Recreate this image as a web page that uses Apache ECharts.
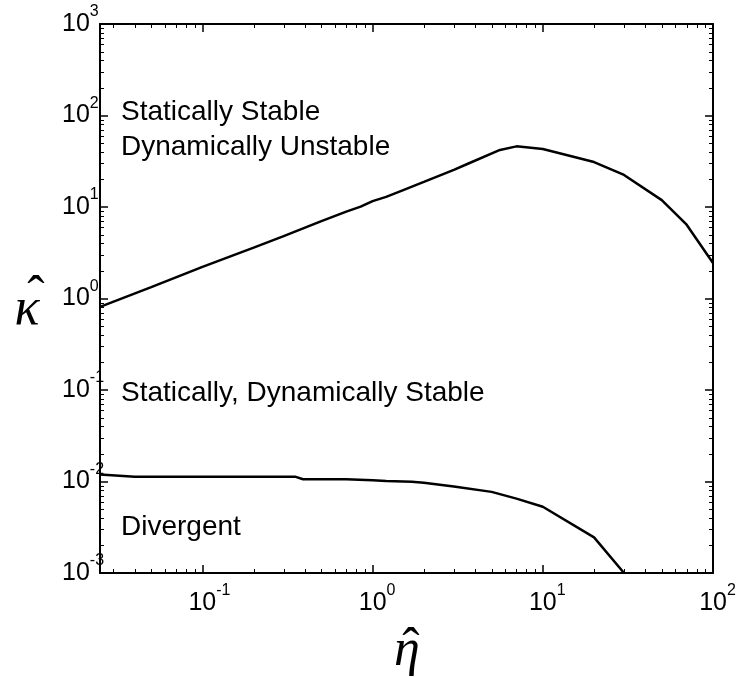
<!DOCTYPE html>
<html>
<head>
<meta charset="utf-8">
<script src="https://cdn.jsdelivr.net/npm/echarts@6/dist/echarts.min.js"></script>
<style>
  html, body { margin: 0; padding: 0; background: #fff; }
  #chart { width: 740px; height: 677px; }
</style>
</head>
<body>
<div id="chart"></div>
<script>
// Stability boundaries in the (eta-hat, kappa-hat) plane.
// Upper boundary: above it the system is statically stable but dynamically unstable.
const etaUpper   = [0.025, 0.05, 0.1, 0.2, 0.3, 0.5, 0.7, 0.85, 1.0, 1.2, 1.5, 2.0, 3.0, 3.6, 5.6, 7.0, 10, 20, 30, 50, 70, 100];
const kappaUpper = [0.81, 1.33, 2.22, 3.6, 4.8, 7.0, 8.9, 10.1, 11.6, 12.9, 15.2, 18.8, 25.5, 29.5, 42, 46, 43, 31, 22.4, 11.9, 6.4, 2.44];

// Lower boundary: below it the system diverges.
const etaLower   = [0.025, 0.04, 0.1, 0.2, 0.35, 0.39, 0.7, 1.0, 1.2, 1.7, 2.0, 3.0, 5.0, 7.0, 10, 20, 30];
const kappaLower = [0.0119, 0.0113, 0.0113, 0.0113, 0.0113, 0.0106, 0.0106, 0.0103, 0.0101, 0.00995, 0.0097, 0.0088, 0.0077, 0.0065, 0.0053, 0.00245, 0.001];

// Region annotations
const regionLabels = [
  { text: 'Statically Stable',              x: 121, y: 112 },
  { text: 'Dynamically Unstable',           x: 121, y: 147 },
  { text: 'Statically, Dynamically Stable', x: 121, y: 393 },
  { text: 'Divergent',                      x: 121, y: 527 }
];

// Axis titles (Greek letter with a hat above it)
const xTitle = '\u03B7';   // eta
const yTitle = '\u03BA';   // kappa
const HAT = '\u02C6';

// Axis ranges
const X_MIN = 0.025, X_MAX = 100;
const Y_MIN = 1e-3,  Y_MAX = 1e3;

// Minor (2..9 x 10^k) tick positions for the log axes
function minorTicks(lo, hi) {
  const out = [];
  for (let e = Math.floor(Math.log10(lo)); e < Math.ceil(Math.log10(hi)); e++) {
    for (let m = 2; m <= 9; m++) {
      const v = m * Math.pow(10, e);
      if (v > lo * 1.0001 && v < hi * 0.9999) out.push(+v.toPrecision(6));
    }
  }
  return out;
}
const xMinor = minorTicks(X_MIN, X_MAX);
const yMinor = minorTicks(Y_MIN, Y_MAX);

const FONT = 'Liberation Sans, Arial, sans-serif';
const SERIF = 'Liberation Serif, Times New Roman, serif';

function powerLabel(value, axis) {
  const e = Math.log10(value);
  const r = Math.round(e);
  if (Math.abs(e - r) > 1e-6) return '';
  const base = axis === 'y' ? 'by' : (r < 0 ? 'bn' : 'bp');
  return '{' + base + '|10}{s|' + r + '}';
}

const richTicks = {
  bp: { fontSize: 25, lineHeight: 40, fontFamily: FONT, color: '#000', padding: [0, 0, 0, 9] },
  bn: { fontSize: 25, lineHeight: 40, fontFamily: FONT, color: '#000', padding: [0, 0, 0, 14] },
  by: { fontSize: 25, lineHeight: 40, fontFamily: FONT, color: '#000' },
  s:  { fontSize: 16, lineHeight: 16, fontFamily: FONT, color: '#000', verticalAlign: 'top' }
};

const axisLineStyle = { show: true, lineStyle: { color: '#000', width: 2 } };
const majorTick = { show: true, inside: true, length: 8, lineStyle: { color: '#000', width: 1.5 } };

function logAxis(min, max, extra) {
  return Object.assign({
    type: 'log', logBase: 10, min: min, max: max,
    axisLine: axisLineStyle,
    axisTick: majorTick,
    minorTick: { show: false },
    splitLine: { show: false },
    minorSplitLine: { show: false }
  }, extra);
}

// Short inward ticks drawn on all four sides of the box at the minor positions
function minorTickSeries(values, dir) {
  return {
    type: 'custom',
    silent: true,
    z: 5,
    xAxisIndex: 0,
    yAxisIndex: 0,
    data: values.map(v => dir === 'x' ? [v, Y_MIN] : [X_MIN, v]),
    renderItem: function (params, api) {
      const cs = params.coordSys;
      const p = api.coord([api.value(0), api.value(1)]);
      const L = 4;
      const style = { stroke: '#000', lineWidth: 1 };
      if (dir === 'x') {
        const x = Math.round(p[0]) + 0.5;
        return { type: 'group', children: [
          { type: 'line', shape: { x1: x, y1: cs.y + cs.height, x2: x, y2: cs.y + cs.height - L }, style: style },
          { type: 'line', shape: { x1: x, y1: cs.y, x2: x, y2: cs.y + L }, style: style }
        ] };
      }
      const y = Math.round(p[1]) + 0.5;
      return { type: 'group', children: [
        { type: 'line', shape: { x1: cs.x, y1: y, x2: cs.x + L, y2: y }, style: style },
        { type: 'line', shape: { x1: cs.x + cs.width, y1: y, x2: cs.x + cs.width - L, y2: y }, style: style }
      ] };
    }
  };
}

const chart = echarts.init(document.getElementById('chart'), null, { renderer: 'canvas' });

function centeredText(text, x, y, font) {
  return {
    type: 'text', x: x, y: y,
    style: { text: text, font: font, fill: '#000', align: 'center', verticalAlign: 'middle' }
  };
}

const graphics = regionLabels.map(l => ({
  type: 'text',
  x: l.x, y: l.y,
  style: { text: l.text, font: '28px ' + FONT, fill: '#000', verticalAlign: 'middle' }
}));
// eta-hat below the horizontal axis
graphics.push(centeredText(xTitle, 407, 651, 'italic 52px ' + SERIF));
graphics.push(centeredText(HAT, 411, 650, '52px ' + SERIF));
// kappa-hat left of the vertical axis
graphics.push(centeredText(yTitle, 27, 310, 'italic 52px ' + SERIF));
graphics.push(centeredText(HAT, 36, 298, '52px ' + SERIF));

chart.setOption({
  animation: false,
  backgroundColor: '#fff',
  grid: { left: 100, right: 27, top: 24, bottom: 104, containLabel: false },
  xAxis: [
    logAxis(X_MIN, X_MAX, {
      position: 'bottom',
      axisLabel: { show: true, margin: 10, formatter: v => powerLabel(v, 'x'), rich: richTicks }
    }),
    logAxis(X_MIN, X_MAX, { position: 'top', axisLabel: { show: false } })
  ],
  yAxis: [
    logAxis(Y_MIN, Y_MAX, {
      position: 'left',
      axisLabel: { show: true, margin: 38, align: 'left', formatter: v => powerLabel(v, 'y'), rich: richTicks }
    }),
    logAxis(Y_MIN, Y_MAX, { position: 'right', axisLabel: { show: false } })
  ],
  graphic: graphics,
  series: [
    {
      name: 'upper', type: 'line', xAxisIndex: 0, yAxisIndex: 0,
      showSymbol: false, smooth: false,
      lineStyle: { color: '#000', width: 2.5 },
      data: etaUpper.map((x, i) => [x, kappaUpper[i]])
    },
    {
      name: 'lower', type: 'line', xAxisIndex: 0, yAxisIndex: 0,
      showSymbol: false, smooth: false,
      lineStyle: { color: '#000', width: 2.5 },
      data: etaLower.map((x, i) => [x, kappaLower[i]])
    },
    minorTickSeries(xMinor, 'x'),
    minorTickSeries(yMinor, 'y')
  ]
});
</script>
</body>
</html>
